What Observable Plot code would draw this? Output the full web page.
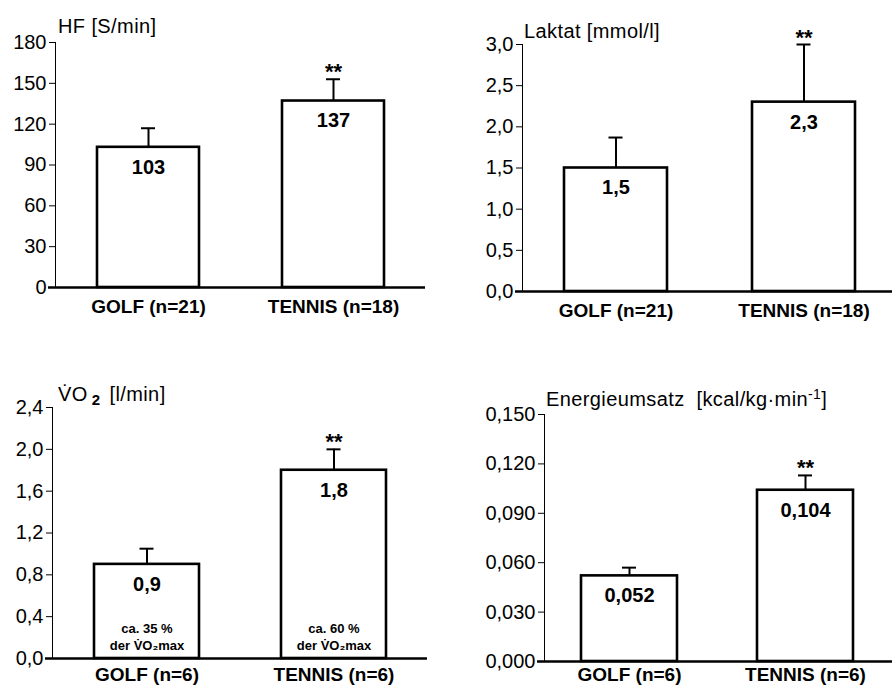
<!DOCTYPE html>
<html><head><meta charset="utf-8">
<script src="https://cdn.jsdelivr.net/npm/d3@7"></script>
<script src="https://cdn.jsdelivr.net/npm/@observablehq/plot@0.6"></script>
<style>
body{margin:0;background:#fff;overflow:hidden;font-family:"Liberation Sans",Arial,sans-serif}
#root{position:relative;width:892px;height:688px;overflow:hidden;background:#fff}
.panel{position:absolute;width:446px;height:344px}
.title{position:absolute;font-size:20px;letter-spacing:0.4px;line-height:1;white-space:nowrap;color:#000}
.title sub{font-size:15px;font-weight:bold;vertical-align:-4px;margin-left:4px;margin-right:9px}
.title sup{font-size:14px;vertical-align:7px}
</style></head><body><div id="root"></div>
<script>
// ---- data ----
const hfCategories = ["GOLF (n=21)", "TENNIS (n=18)"];
const hfValues = [103, 137];
const hfSD = [14, 16];
const hfLabels = ["103", "137"];
const hfTicks = [0, 30, 60, 90, 120, 150, 180];

const laktatCategories = ["GOLF (n=21)", "TENNIS (n=18)"];
const laktatValues = [1.5, 2.3];
const laktatSD = [0.37, 0.7];
const laktatLabels = ["1,5", "2,3"];
const laktatTicks = [0, 0.5, 1.0, 1.5, 2.0, 2.5, 3.0];

const vo2Categories = ["GOLF (n=6)", "TENNIS (n=6)"];
const vo2Values = [0.9, 1.8];
const vo2SD = [0.15, 0.2];
const vo2Labels = ["0,9", "1,8"];
const vo2Notes = ["ca. 35 %\nder V̇O₂max", "ca. 60 %\nder V̇O₂max"];
const vo2Ticks = [0, 0.4, 0.8, 1.2, 1.6, 2.0, 2.4];

const energyCategories = ["GOLF (n=6)", "TENNIS (n=6)"];
const energyValues = [0.052, 0.104];
const energySD = [0.005, 0.009];
const energyLabels = ["0,052", "0,104"];
const energyTicks = [0, 0.03, 0.06, 0.09, 0.12, 0.15];

const significance = ["", "**"];

// ---- drawing ----
const fontFamily = '"Liberation Sans", Arial, sans-serif';
const root = document.getElementById("root");

function panel({left, top, categories, values, sd, labels, notes, ticks, decimals, layout}) {
  const data = categories.map((c, i) => ({
    cat: c, v: values[i], hi: values[i] + sd[i], label: labels[i],
    sig: significance[i], note: notes ? notes[i] : ""
  }));
  const {L, R, b1, w, s, mt, mb, xPad} = layout;
  const pi = 1 - w / s;
  const po = ((R - L) / s - 2 + pi) / 2;
  const align = (b1 - L) / ((R - L) - s * (2 - pi));
  const capInset = (w - 14) / 2;
  const fmt = d => d.toFixed(decimals).replace(".", ",");
  const marks = [
    Plot.ruleX(data, {x: "cat", y1: "v", y2: "hi", stroke: "black", strokeWidth: 2}),
    Plot.tickY(data, {x: "cat", y: "hi", stroke: "black", strokeWidth: 2, insetLeft: capInset, insetRight: capInset}),
    Plot.barY(data, {x: "cat", y: "v", fill: "white", stroke: "black", strokeWidth: 2.6}),
    Plot.ruleY([0], {stroke: "black", strokeWidth: 2.4, insetLeft: -7}),
    Plot.axisX({fontWeight: "bold", fontSize: 19, tickSize: 0, tickPadding: xPad, label: null}),
    Plot.text(data, {x: "cat", y: "v", text: "label", dy: 20, fontWeight: "bold", fontSize: 20}),
    Plot.text(data, {x: "cat", y: "hi", text: "sig", dy: -7, fontWeight: "bold", fontSize: 22})
  ];
  if (notes) {
    marks.push(Plot.text(data, {x: "cat", y: 0, text: "note", dy: -9, lineAnchor: "bottom", lineHeight: 1.3, fontWeight: "bold", fontSize: 13}));
  }
  const chart = Plot.plot({
    width: 446, height: 344,
    marginLeft: L, marginRight: 446 - R, marginTop: mt, marginBottom: mb,
    style: {fontFamily, fontSize: "20px", color: "#000", background: "transparent", overflow: "visible"},
    x: {domain: categories, paddingInner: pi, paddingOuter: po, align},
    y: {domain: [0, ticks[ticks.length - 1]], ticks, tickFormat: fmt, tickSize: 6, tickPadding: 3, line: true, label: null},
    marks
  });
  const div = document.createElement("div");
  div.className = "panel";
  div.style.left = left + "px";
  div.style.top = top + "px";
  div.appendChild(chart);
  root.appendChild(div);
}

function title(html, left, top) {
  const d = document.createElement("div");
  d.className = "title";
  d.style.left = left + "px";
  d.style.top = top + "px";
  d.innerHTML = html;
  root.appendChild(d);
}

panel({left: 0, top: 0, categories: hfCategories, values: hfValues, sd: hfSD, labels: hfLabels,
  ticks: hfTicks, decimals: 0, layout: {L: 55, R: 425, b1: 97, w: 102, s: 185, mt: 42, mb: 57, xPad: 12}});
panel({left: 446, top: 0, categories: laktatCategories, values: laktatValues, sd: laktatSD, labels: laktatLabels,
  ticks: laktatTicks, decimals: 1, layout: {L: 76, R: 446, b1: 118, w: 103, s: 188, mt: 44, mb: 53, xPad: 12}});
panel({left: 0, top: 344, categories: vo2Categories, values: vo2Values, sd: vo2SD, labels: vo2Labels, notes: vo2Notes,
  ticks: vo2Ticks, decimals: 1, layout: {L: 52, R: 427, b1: 94, w: 105, s: 187, mt: 63, mb: 30, xPad: 9}});
panel({left: 446, top: 344, categories: energyCategories, values: energyValues, sd: energySD, labels: energyLabels,
  ticks: energyTicks, decimals: 3, layout: {L: 98, R: 446, b1: 135, w: 96, s: 176, mt: 70, mb: 27, xPad: 6}});

title("HF [S/min]", 58, 16);
title("Laktat [mmol/l]", 524, 21);
title("V̇O<sub>2</sub>[l/min]", 58, 384);
title("Energieumsatz&nbsp; [kcal/kg·min<sup>-1</sup>]", 546, 387);
</script></body></html>
